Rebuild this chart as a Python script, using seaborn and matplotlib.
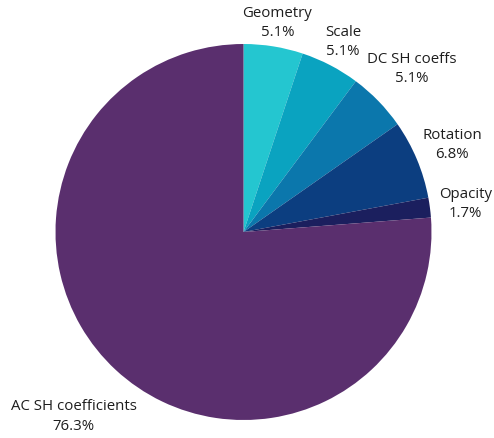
import numpy as np
import matplotlib
matplotlib.use("Agg")
import matplotlib.pyplot as plt
import seaborn as sns

categories = ["Geometry", "Scale", "DC SH coeffs", "Rotation", "Opacity", "AC SH coefficients"]
values = [5.1, 5.1, 5.1, 6.8, 1.7, 76.3]
colors = ["#24c6d0", "#0aa3c0", "#0b77ac", "#0c3e80", "#1b1f5e", "#5a2f6e"]
label_radius = [1.13, 1.145, 1.25, 1.205, 1.19, 1.33]

sns.set_theme(style="white")
plt.rcParams['font.family'] = ['Open Sans', 'DejaVu Sans']

W, H = 494, 439
fig = plt.figure(figsize=(W / 100, H / 100), dpi=100)
ax = fig.add_axes([0, 0, 1, 1])

cx, cy, R = 243.5, H - 233, 188
wedges, _ = ax.pie(values, colors=colors, startangle=90, counterclock=False,
                   center=(cx, cy), radius=R, frame=True,
                   wedgeprops=dict(linewidth=0))
ax.set_xlim(0, W)
ax.set_ylim(0, H)
ax.set_aspect('equal')
ax.axis('off')

for w, name, v, lr in zip(wedges, categories, values, label_radius):
    ang = np.deg2rad((w.theta1 + w.theta2) / 2)
    x = cx + R * lr * np.cos(ang)
    y = cy + R * lr * np.sin(ang)
    ax.text(x, y, f"{name}\n{v:.1f}%", ha='center', va='center',
            fontsize=10.8, color='#1e1e1e', linespacing=1.38)

fig.savefig("out.png", dpi=100, facecolor='white')
